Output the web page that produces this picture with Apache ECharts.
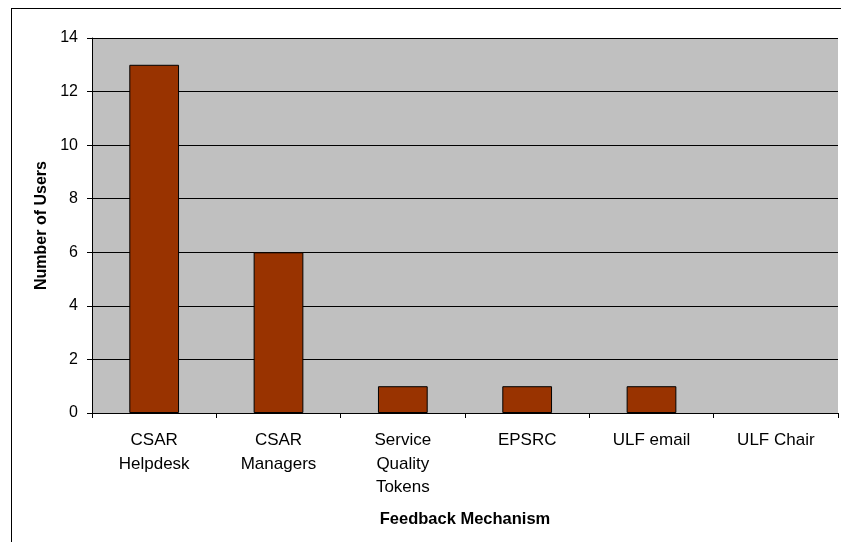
<!DOCTYPE html>
<html>
<head>
<meta charset="utf-8">
<script src="https://cdn.jsdelivr.net/npm/echarts@6/dist/echarts.min.js"></script>
<style>
  html, body { margin: 0; padding: 0; background: #fff; }
  #frame { position: absolute; left: 11px; top: 8px; width: 900px; height: 600px; border: 1px solid #000; box-sizing: border-box; }
  #chart { position: absolute; left: 0; top: 0; width: 841px; height: 542px; }
</style>
</head>
<body>
<div id="frame"></div>
<div id="chart"></div>
<script>
const categories = ['CSAR\nHelpdesk', 'CSAR\nManagers', 'Service\nQuality\nTokens', 'EPSRC', 'ULF email', 'ULF Chair'];
const users = [13, 6, 1, 1, 1, 0];
const yTicks = [0, 2, 4, 6, 8, 10, 12, 14];

const chart = echarts.init(document.getElementById('chart'));

const option = {
  backgroundColor: 'transparent',
  textStyle: { fontFamily: 'Liberation Sans, Arial, sans-serif' },
  grid: {
    left: 92,
    right: 3,
    top: 38,
    bottom: 129,
    show: true,
    backgroundColor: '#c0c0c0',
    borderWidth: 0
  },
  xAxis: {
    type: 'category',
    data: categories,
    name: 'Feedback Mechanism',
    nameLocation: 'middle',
    nameGap: 98,
    nameTextStyle: { fontSize: 16.5, fontWeight: 'bold', color: '#000' },
    axisLine: { lineStyle: { color: '#000', width: 1 } },
    axisTick: { show: true, length: 5, lineStyle: { color: '#000' } },
    axisLabel: { color: '#000', fontSize: 17, lineHeight: 23.5, margin: 16, interval: 0 }
  },
  yAxis: {
    type: 'value',
    min: 0,
    max: 14,
    interval: 2,
    name: 'Number of Users',
    nameLocation: 'middle',
    nameGap: 41,
    nameTextStyle: { fontSize: 16, fontWeight: 'bold', color: '#000' },
    axisLine: { show: true, lineStyle: { color: '#000', width: 1 } },
    axisTick: { show: true, length: 5, lineStyle: { color: '#000' } },
    axisLabel: {
      color: '#000', fontSize: 16, margin: 14,
      formatter: v => yTicks.includes(v) ? String(v) : ''
    },
    splitLine: { show: true, lineStyle: { color: '#000', width: 1 } }
  },
  series: [{
    type: 'bar',
    data: users.map(v => v === 0 ? { value: v, itemStyle: { borderWidth: 0 } } : v),
    barWidth: '40%',
    itemStyle: { color: '#993300', borderColor: '#000', borderWidth: 1 },
    animation: false
  }]
};

chart.setOption(option);
</script>
</body>
</html>
